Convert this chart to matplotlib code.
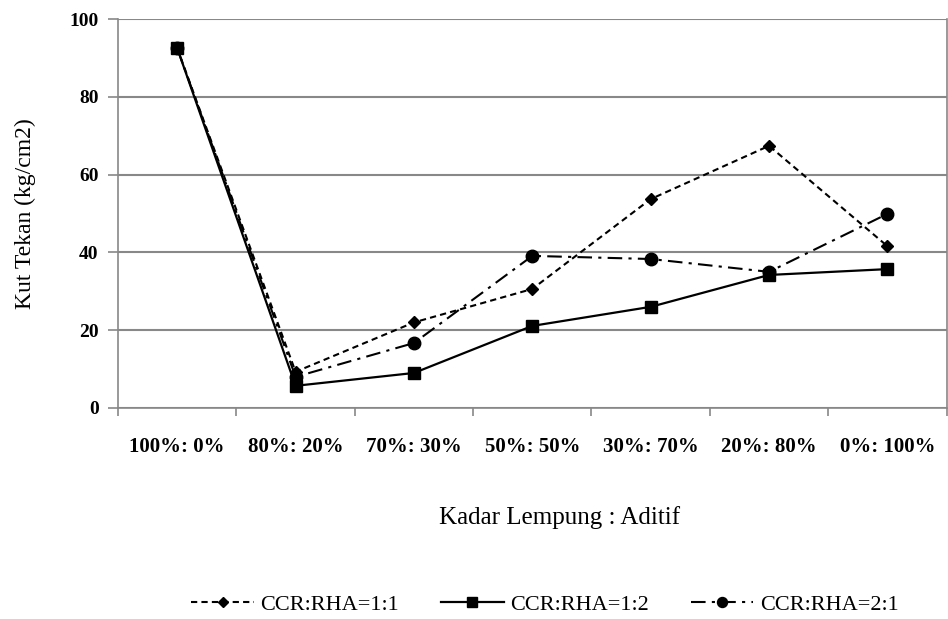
import matplotlib.pyplot as plt

kategori = ['100%: 0%', '80%: 20%', '70%: 30%', '50%: 50%', '30%: 70%', '20%: 80%', '0%: 100%']
ccr_rha_11 = [92.5, 9.3, 22.0, 30.6, 53.7, 67.4, 41.6]
ccr_rha_12 = [92.5, 5.7, 9.0, 21.1, 26.0, 34.2, 35.7]
ccr_rha_21 = [92.5, 8.0, 16.7, 39.1, 38.3, 35.0, 49.9]

plt.rcParams['font.family'] = ['Liberation Serif', 'DejaVu Serif']

fig = plt.figure(figsize=(9.48, 6.19), dpi=100)
ax = fig.add_axes([0.1245, 0.3409, 0.874, 0.6284])

x = list(range(len(kategori)))
ax.plot(x, ccr_rha_11, color='black', linestyle=(0, (3, 2)), linewidth=1.5,
        marker='D', markersize=6.5, label='CCR:RHA=1:1', zorder=3)
ax.plot(x, ccr_rha_21, color='black', linestyle=(0, (7, 3, 1.5, 3)), linewidth=1.5,
        marker='o', markersize=9, label='CCR:RHA=2:1', zorder=3)
ax.plot(x, ccr_rha_12, color='black', linestyle='-', linewidth=1.6,
        marker='s', markersize=9, label='CCR:RHA=1:2', zorder=4)

ax.set_xlim(-0.5, len(kategori) - 0.5)
ax.set_ylim(0, 100)
ax.set_yticks([0, 20, 40, 60, 80, 100])
ax.set_xticks(x)
ax.set_xticklabels(kategori, fontsize=15, fontweight='bold')
ax.set_xticks([i + 0.5 for i in range(-1, len(kategori))], minor=True)
ax.tick_params(axis='x', which='major', length=0, pad=21)
ax.tick_params(axis='x', which='minor', length=6, color='#888888', width=1.2)
ax.tick_params(axis='y', length=7, color='#888888', width=1.2, labelsize=14, pad=7)
for t in ax.get_yticklabels():
    t.set_fontweight('bold')

ax.grid(axis='y', color='#888888', linewidth=1.5)
ax.set_axisbelow(True)
for s in ['left', 'bottom', 'right']:
    ax.spines[s].set_color('#888888')
    ax.spines[s].set_linewidth(1.2)
ax.spines['top'].set_visible(False)

ax.set_ylabel('Kut Tekan (kg/cm2)', fontsize=17, labelpad=24)
ax.set_xlabel('Kadar Lempung : Aditif', fontsize=18)
ax.xaxis.set_label_coords(0.533, -0.252)

h, l = ax.get_legend_handles_labels()
order = [0, 2, 1]
fig.legend([h[i] for i in order], [l[i] for i in order], loc='center',
           bbox_to_anchor=(0.575, 0.023), ncol=3, frameon=False, fontsize=16,
           handlelength=2.8, handletextpad=0.3, columnspacing=1.9, markerscale=0.8)

fig.savefig('out.png', dpi=100)
